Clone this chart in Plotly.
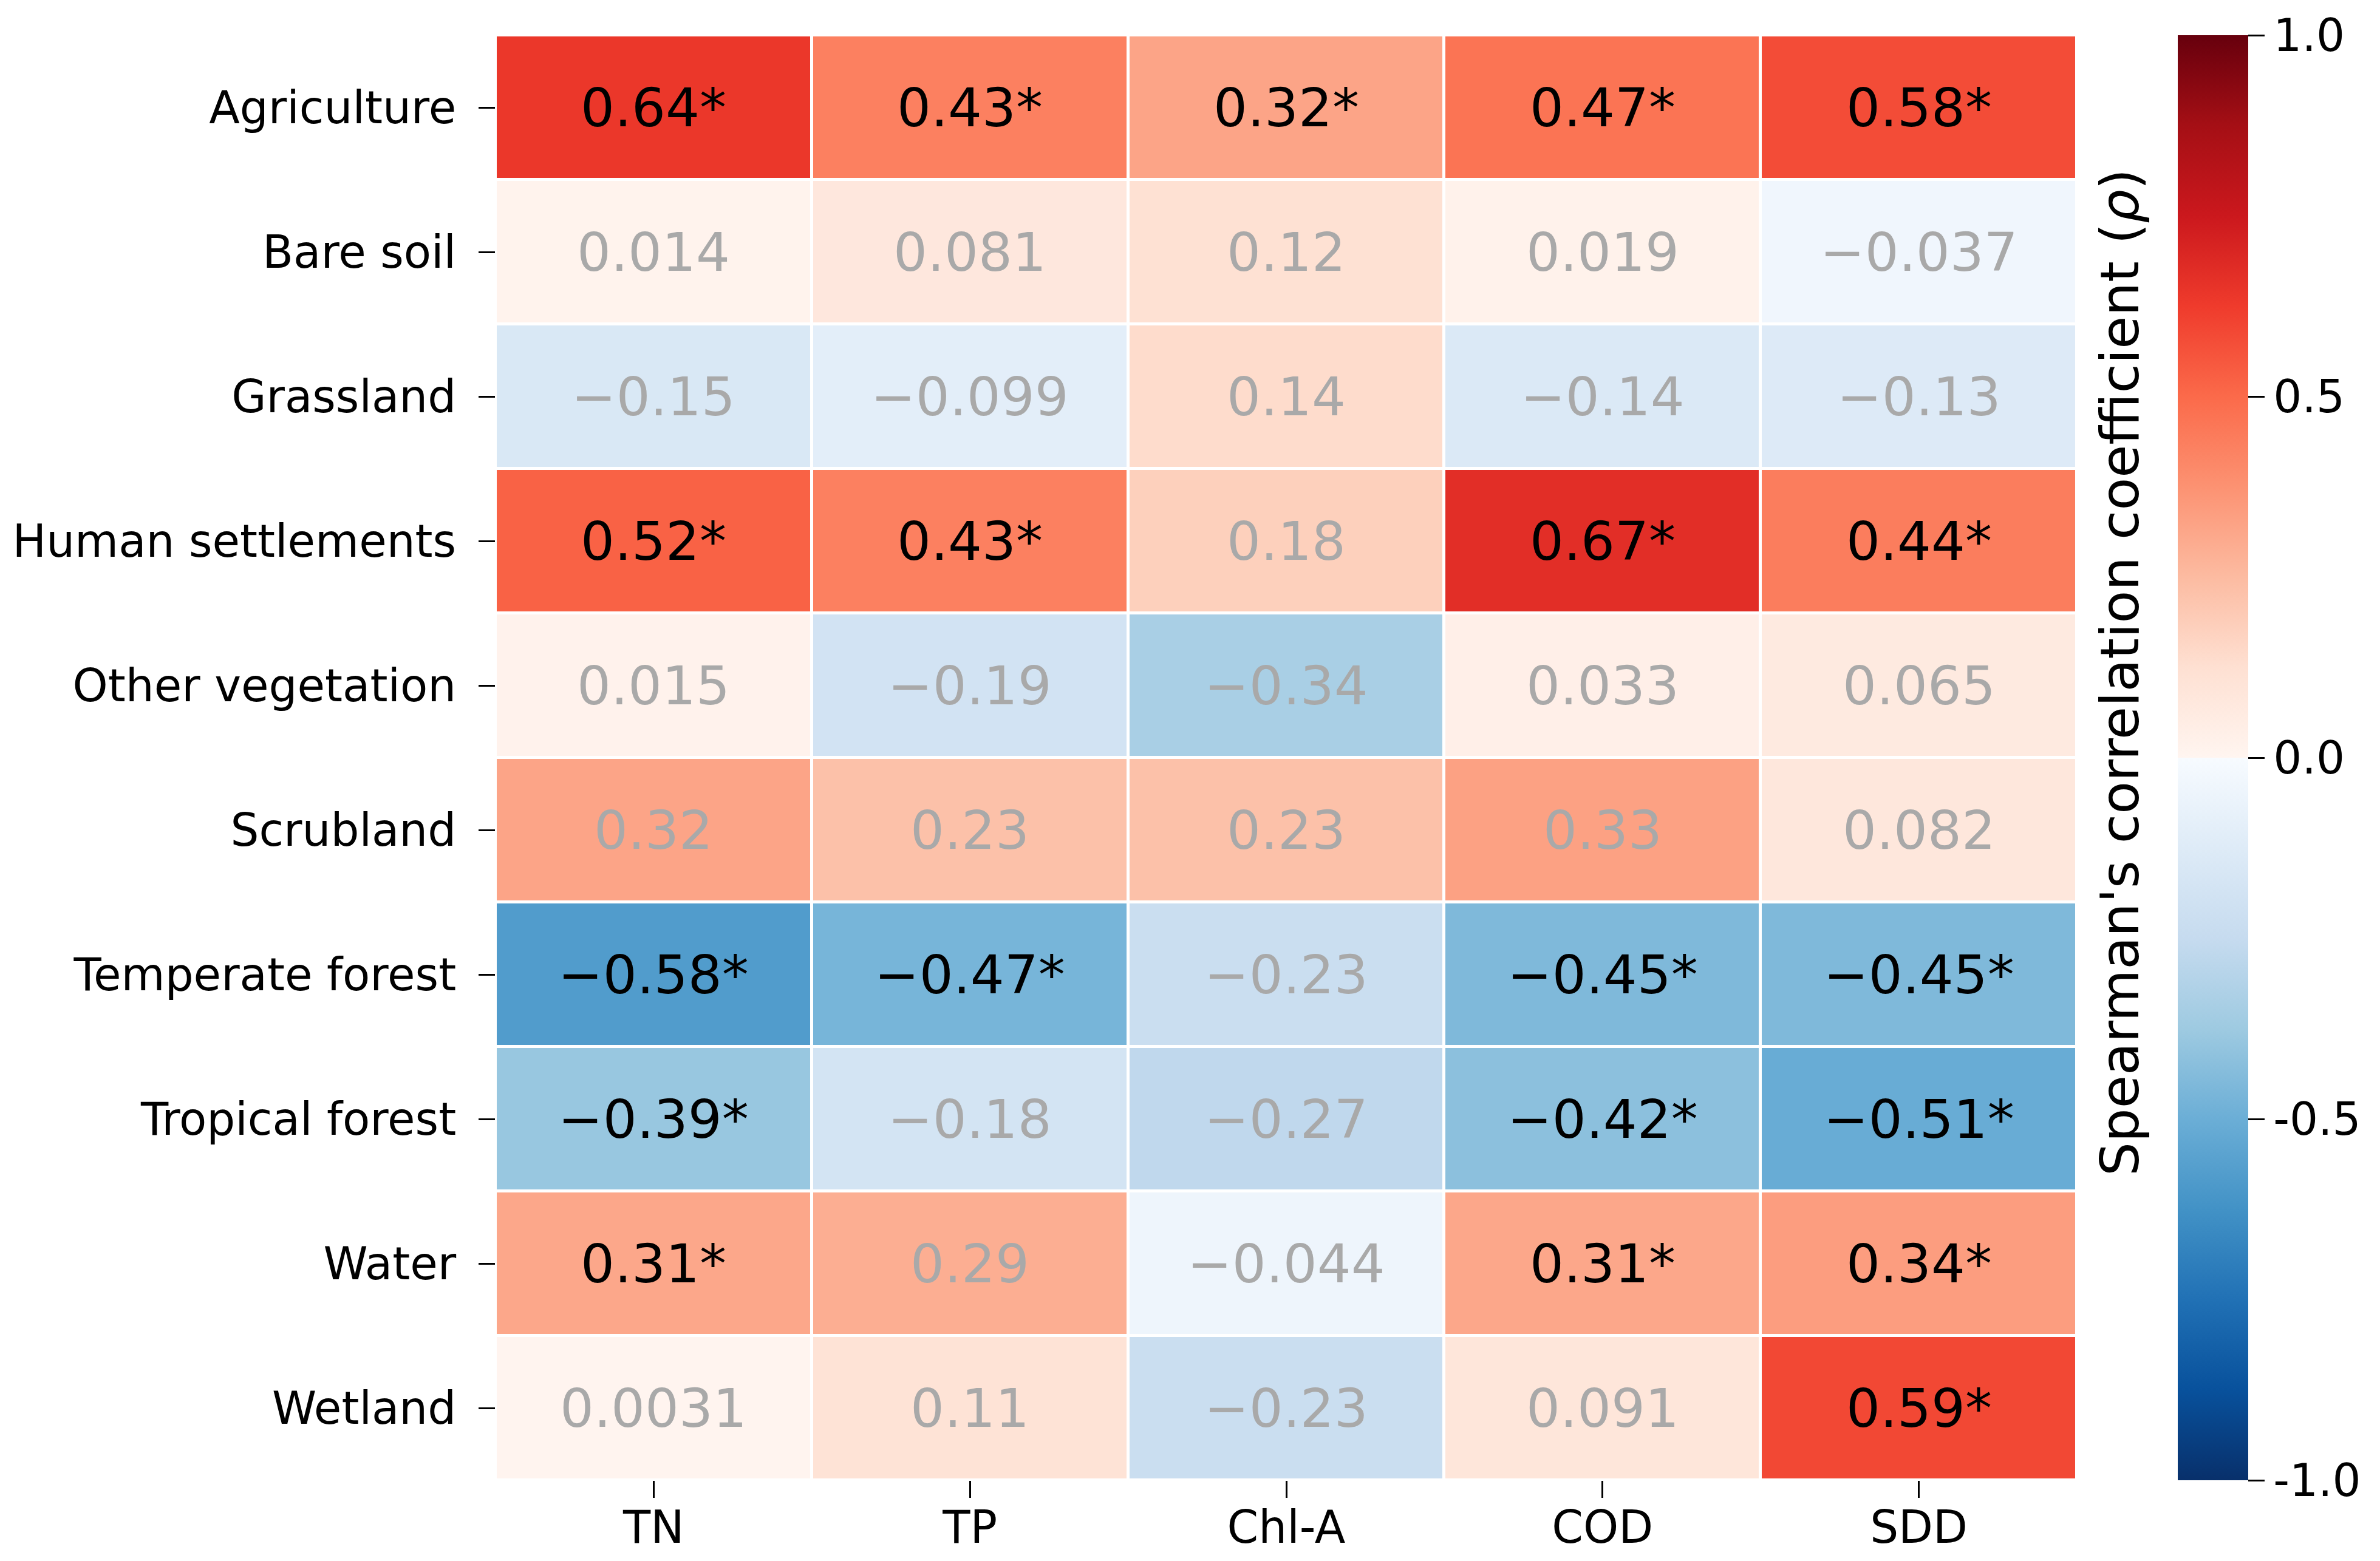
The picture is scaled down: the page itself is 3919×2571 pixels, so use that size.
import plotly.graph_objects as go

rows = ["Agriculture", "Bare soil", "Grassland", "Human settlements", "Other vegetation",
        "Scrubland", "Temperate forest", "Tropical forest", "Water", "Wetland"]
cols = ["TN", "TP", "Chl-A", "COD", "SDD"]

values = [
    [0.64, 0.43, 0.32, 0.47, 0.58],
    [0.014, 0.081, 0.12, 0.019, -0.037],
    [-0.15, -0.099, 0.14, -0.14, -0.13],
    [0.52, 0.43, 0.18, 0.67, 0.44],
    [0.015, -0.19, -0.34, 0.033, 0.065],
    [0.32, 0.23, 0.23, 0.33, 0.082],
    [-0.58, -0.47, -0.23, -0.45, -0.45],
    [-0.39, -0.18, -0.27, -0.42, -0.51],
    [0.31, 0.29, -0.044, 0.31, 0.34],
    [0.0031, 0.11, -0.23, 0.091, 0.59],
]
significant = [
    [1, 1, 1, 1, 1],
    [0, 0, 0, 0, 0],
    [0, 0, 0, 0, 0],
    [1, 1, 0, 1, 1],
    [0, 0, 0, 0, 0],
    [0, 0, 0, 0, 0],
    [1, 1, 0, 1, 1],
    [1, 0, 0, 1, 1],
    [1, 0, 0, 1, 1],
    [0, 0, 0, 0, 1],
]
cbar_ticks = [-1.0, -0.5, 0.0, 0.5, 1.0]
cbar_ticktext = ["-1.0", "-0.5", "0.0", "0.5", "1.0"]

blues = ["#f7fbff", "#deebf7", "#c6dbef", "#9ecae1", "#6baed6", "#4292c6", "#2171b5", "#08519c", "#08306b"]
reds = ["#fff5f0", "#fee0d2", "#fcbba1", "#fc9272", "#fb6a4a", "#ef3b2c", "#cb181d", "#a50f15", "#67000d"]
colorscale = []
n = len(blues) - 1
for i, c in enumerate(reversed(blues)):
    colorscale.append([0.5 * i / n, c])
for i, c in enumerate(reds):
    colorscale.append([0.5 + 0.5 * i / n, c])

W, H = 3919, 2571
L, R, T, B = 808, 3412, 50, 2430
FONT = "DejaVu Sans"

fig = go.Figure()
fig.add_trace(go.Heatmap(
    z=values, x=cols, y=rows, zmin=-1, zmax=1, colorscale=colorscale,
    xgap=5, ygap=5, hoverinfo="skip",
    colorbar=dict(
        x=(3578 - L) / (R - L), xanchor="left", xpad=0,
        y=0.5, yanchor="middle", len=1, lenmode="fraction", ypad=0,
        thickness=116, thicknessmode="pixels", outlinewidth=0,
        tickmode="array", tickvals=cbar_ticks, ticktext=cbar_ticktext,
        ticks="outside", ticklen=27, tickwidth=3, tickcolor="black",
        tickfont=dict(family=FONT, size=74, color="black"),
    ),
))

def fmt(v):
    s = f"{v:.2g}"
    return s.replace("-", "\u2212")

annotations = []
for i, r in enumerate(rows):
    for j, c in enumerate(cols):
        v = values[i][j]
        sig = significant[i][j]
        annotations.append(dict(
            x=c, y=r, xref="x", yref="y", showarrow=False,
            text=fmt(v) + ("*" if sig else ""),
            font=dict(family=FONT, size=88, color="black" if sig else "#a9a9a9"),
        ))
annotations.append(dict(
    x=(3482 - L) / (R - L), y=1 - (1100 - T) / (B - T), xref="paper", yref="paper",
    showarrow=False, textangle=-90, xanchor="center", yanchor="middle",
    text="Spearman's correlation coefficient (<i>ρ</i>)",
    font=dict(family=FONT, size=88, color="black"),
))

fig.update_layout(
    width=W, height=H,
    margin=dict(l=L, r=W - R, t=T, b=H - B, pad=0, autoexpand=False),
    paper_bgcolor="white", plot_bgcolor="white",
    font=dict(family=FONT, color="black"),
    annotations=annotations,
    xaxis=dict(ticks="outside", ticklen=28, tickwidth=3, tickcolor="black",
               tickfont=dict(family=FONT, size=74, color="black"), automargin=False,
               showgrid=False, zeroline=False, showline=False, ticklabelstandoff=-15),
    yaxis=dict(ticks="outside", ticklen=27, tickwidth=3, tickcolor="black",
               tickfont=dict(family=FONT, size=74, color="black"), automargin=False,
               autorange="reversed",
               showgrid=False, zeroline=False, showline=False, ticklabelstandoff=22),
)

fig.write_html("out.html")
